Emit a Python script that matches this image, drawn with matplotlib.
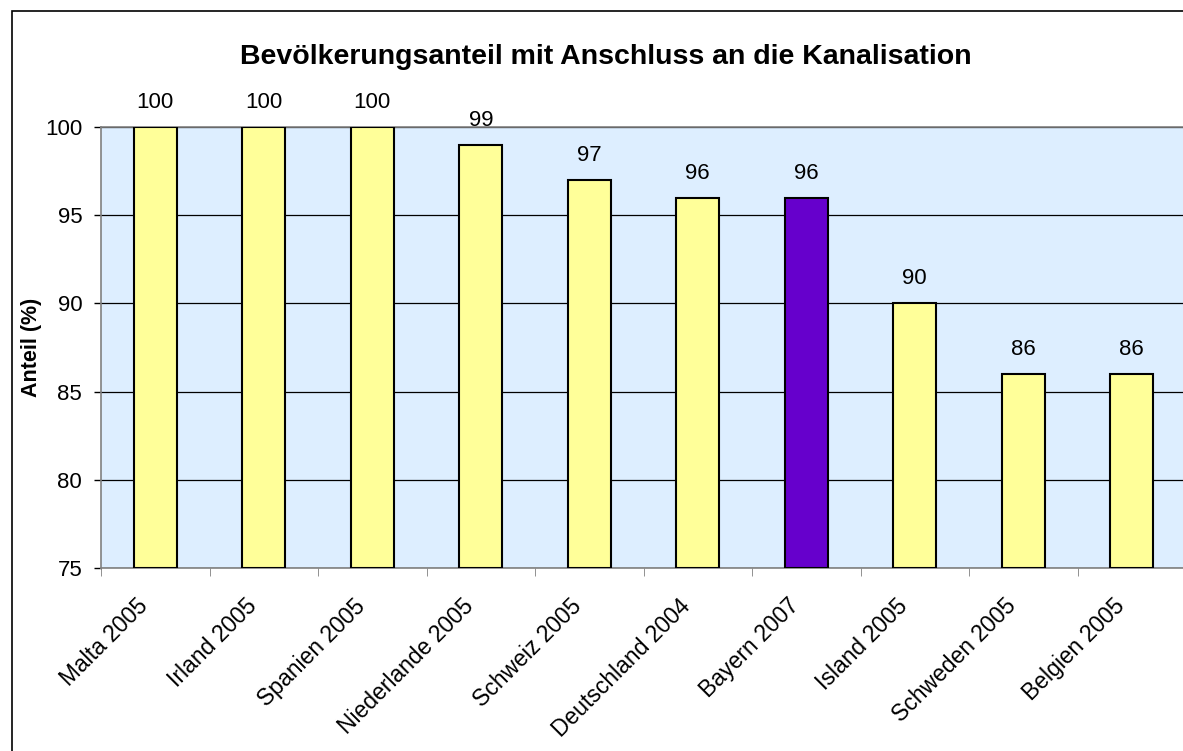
import matplotlib.pyplot as plt
import matplotlib.patches as patches
import matplotlib.transforms as mtransforms
import numpy as np

plt.rcParams['font.family'] = ['Liberation Sans', 'DejaVu Sans']

laender = ['Malta 2005', 'Irland 2005', 'Spanien 2005', 'Niederlande 2005', 'Schweiz 2005',
           'Deutschland 2004', 'Bayern 2007', 'Island 2005', 'Schweden 2005', 'Belgien 2005']
anteil = [100, 100, 100, 99, 97, 96, 96, 90, 86, 86]
farben = ['#FFFF99'] * 6 + ['#6600CC'] + ['#FFFF99'] * 3
yticks = [75, 80, 85, 90, 95, 100]

W, H = 1183, 751
fig = plt.figure(figsize=(W / 100, H / 100), dpi=100)
ax = fig.add_axes([101 / W, 1 - 568 / H, 1085 / W, 441 / H])
ax.set_facecolor('#DDEEFF')

# rahmen um das diagramm
fig.patches.append(patches.Rectangle((11.5 / W, -0.1), 1.2, 1.1 - 11.5 / H, transform=fig.transFigure,
                                     fill=False, edgecolor='black', linewidth=1.2))

x = np.arange(len(laender))
ax.bar(x, [a - 75 for a in anteil], bottom=75, width=0.4, color=farben, edgecolor='black',
       linewidth=1.5, zorder=3)
for xi, a in zip(x, anteil):
    ax.annotate(str(a), (xi, a), xytext=(0, 13.7), textcoords='offset points',
                ha='center', va='baseline', fontsize=16)

ax.set_xlim(-0.5, len(laender) - 0.5)
ax.set_ylim(75, 100)
ax.set_yticks(yticks)
ax.yaxis.grid(True, color='black', linewidth=0.9, zorder=1)
ax.set_axisbelow(True)
ax.tick_params(axis='y', direction='out', length=5, width=1, labelsize=16, pad=8.5)

ax.set_xticks(x)
ax.set_xticklabels(laender, rotation=45, ha='right', rotation_mode='anchor', fontsize=16.5)
ax.set_xticks(np.arange(-0.5, len(laender), 1), minor=True)
ax.tick_params(axis='x', which='major', length=0, pad=19)
ax.tick_params(axis='x', which='minor', direction='out', length=5.5, color='#808080')
verschiebung = mtransforms.ScaledTranslation(-19 / 100, 0, fig.dpi_scale_trans)
for lbl in ax.get_xticklabels():
    lbl.set_transform(lbl.get_transform() + verschiebung)

for s in ax.spines.values():
    s.set_color('#808080')
    s.set_linewidth(1.2)

ax.set_ylabel('Anteil (%)', fontsize=15.5, fontweight='bold')
ax.yaxis.set_label_coords(-59 / 1085, 0.5)
fig.text(606 / W, 1 - 64 / H, 'Bevölkerungsanteil mit Anschluss an die Kanalisation',
         ha='center', va='baseline', fontsize=20.5, fontweight='bold')

fig.savefig('out.png', dpi=100)
